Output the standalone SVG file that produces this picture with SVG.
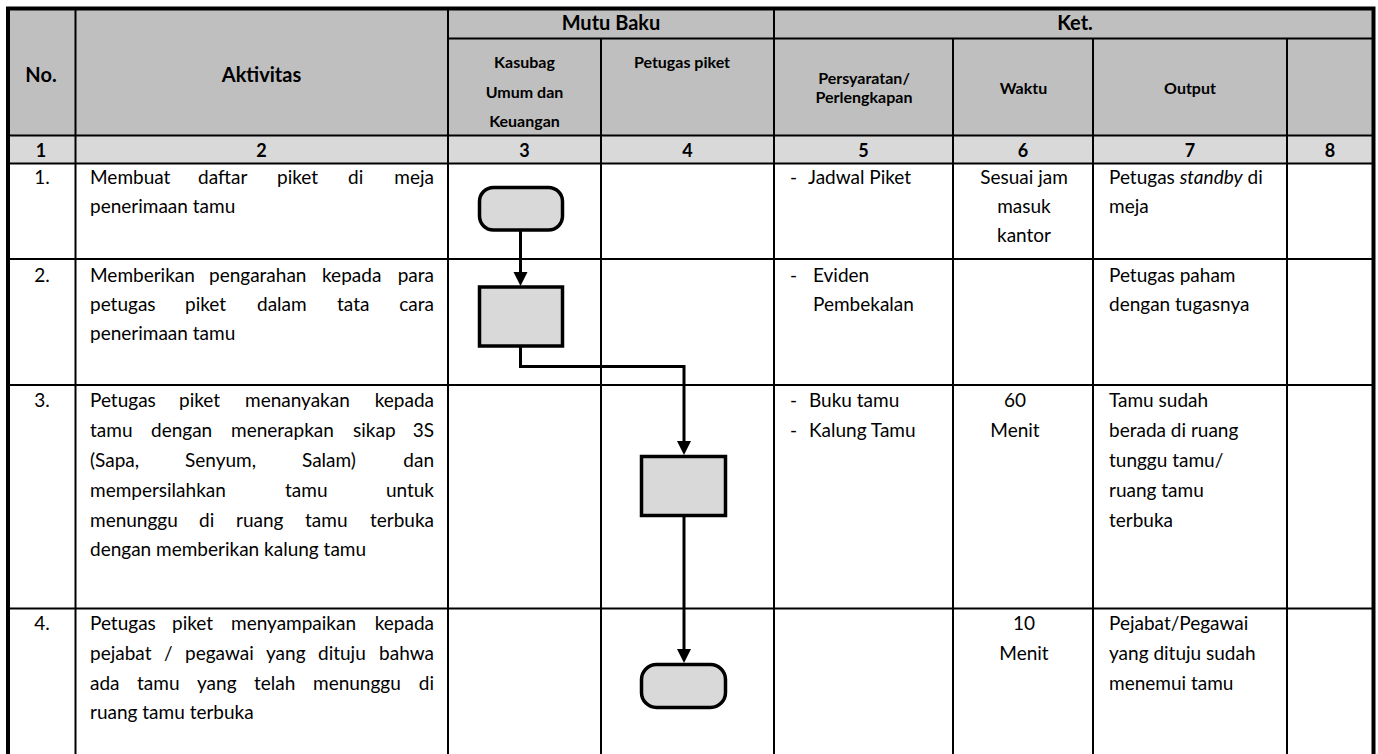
<svg xmlns="http://www.w3.org/2000/svg" width="1378" height="754" viewBox="0 0 1378 754">
<style>
text{font-family:Lato,"Liberation Sans",sans-serif;fill:#000}
.t{font-size:19px}
.hb{font-size:20px;font-weight:bold}
.hs{font-size:16px;font-weight:bold}
.nb{font-size:18px;font-weight:bold}
.m{text-anchor:middle}
.e{text-anchor:end}
.g{stroke:#000;stroke-width:2;fill:none}
.ob{stroke:#000;stroke-width:4;fill:none}
.shape{fill:#D9D9D9;stroke:#000;stroke-width:3.5}
.conn{stroke:#000;stroke-width:3;fill:none}
</style>
<defs>
<marker id="arr" markerUnits="userSpaceOnUse" markerWidth="16" markerHeight="16" refX="0" refY="7" orient="auto">
<path d="M0,0 L14,7 L0,14 z" fill="#000"/>
</marker>
</defs>
<rect width="1378" height="754" fill="#fff"/>

<g id="table">
<rect x="8" y="8" width="1365" height="127.5" fill="#BFBFBF"/>
<rect x="8" y="135.5" width="1365" height="28" fill="#D9D9D9"/>
<g class="g">
<line x1="448" y1="38.5" x2="1373" y2="38.5"/>
<line x1="8" y1="135.5" x2="1373" y2="135.5"/>
<line x1="8" y1="163.5" x2="1373" y2="163.5"/>
<line x1="8" y1="259" x2="1373" y2="259"/>
<line x1="8" y1="385" x2="1373" y2="385"/>
<line x1="8" y1="608.5" x2="1373" y2="608.5"/>
<line x1="75.5" y1="8" x2="75.5" y2="754"/>
<line x1="448" y1="8" x2="448" y2="754"/>
<line x1="601" y1="38.5" x2="601" y2="754"/>
<line x1="774" y1="8" x2="774" y2="754"/>
<line x1="953" y1="38.5" x2="953" y2="754"/>
<line x1="1093" y1="38.5" x2="1093" y2="754"/>
<line x1="1287" y1="38.5" x2="1287" y2="754"/>
</g>
<path class="ob" d="M8,756 V8.5 H1373.5 V756"/>
</g>

<g id="header">
<text class="hb m" x="41" y="82">No.</text>
<text class="hb m" x="261.5" y="82">Aktivitas</text>
<text class="hb m" x="611" y="30">Mutu Baku</text>
<text class="hb m" x="1075" y="30">Ket.</text>
<text class="hs m" x="524.5" y="68">Kasubag</text>
<text class="hs m" x="524.5" y="98">Umum dan</text>
<text class="hs m" x="524.5" y="127">Keuangan</text>
<text class="hs m" x="682" y="68">Petugas piket</text>
<text class="hs m" x="864" y="84">Persyaratan/</text>
<text class="hs m" x="864" y="103">Perlengkapan</text>
<text class="hs m" x="1023.5" y="94">Waktu</text>
<text class="hs m" x="1190" y="94">Output</text>
<text class="nb m" x="41" y="157">1</text>
<text class="nb m" x="261.5" y="157">2</text>
<text class="nb m" x="524.5" y="157">3</text>
<text class="nb m" x="687.5" y="157">4</text>
<text class="nb m" x="863.5" y="157">5</text>
<text class="nb m" x="1023" y="157">6</text>
<text class="nb m" x="1190" y="157">7</text>
<text class="nb m" x="1330" y="157">8</text>
</g>

<g id="row1">
<text class="t m" x="42" y="184">1.</text>
<text class="t" y="184"><tspan x="90">Membuat</tspan><tspan x="198">daftar</tspan><tspan x="277">piket</tspan><tspan x="348">di</tspan></text>
<text class="t e" x="434" y="184">meja</text>
<text class="t" x="90" y="213">penerimaan tamu</text>
<text class="t" y="184"><tspan x="790">-</tspan><tspan x="808">Jadwal Piket</tspan></text>
<text class="t m" x="1024" y="184">Sesuai jam</text>
<text class="t m" x="1024" y="213">masuk</text>
<text class="t m" x="1024" y="242">kantor</text>
<text class="t" x="1109" y="184">Petugas <tspan font-style="italic">standby</tspan> di</text>
<text class="t" x="1109" y="213">meja</text>
</g>

<g id="row2">
<text class="t m" x="42" y="282">2.</text>
<text class="t" y="282"><tspan x="90">Memberikan</tspan><tspan x="209">pengarahan</tspan><tspan x="322">kepada</tspan></text>
<text class="t e" x="434" y="282">para</text>
<text class="t" y="311"><tspan x="90">petugas</tspan><tspan x="185">piket</tspan><tspan x="257">dalam</tspan><tspan x="337">tata</tspan></text>
<text class="t e" x="434" y="311">cara</text>
<text class="t" x="90" y="340">penerimaan tamu</text>
<text class="t" y="282"><tspan x="790">-</tspan><tspan x="813">Eviden</tspan></text>
<text class="t" x="813" y="311">Pembekalan</text>
<text class="t" x="1109" y="282">Petugas paham</text>
<text class="t" x="1109" y="311">dengan tugasnya</text>
</g>

<g id="row3">
<text class="t m" x="42" y="407">3.</text>
<text class="t" y="407"><tspan x="90">Petugas</tspan><tspan x="179">piket</tspan><tspan x="245">menanyakan</tspan></text>
<text class="t e" x="434" y="407">kepada</text>
<text class="t" y="437"><tspan x="90">tamu</tspan><tspan x="151">dengan</tspan><tspan x="231">menerapkan</tspan><tspan x="353">sikap</tspan></text>
<text class="t e" x="434" y="437">3S</text>
<text class="t" y="467"><tspan x="90">(Sapa,</tspan><tspan x="185">Senyum,</tspan><tspan x="302">Salam)</tspan></text>
<text class="t e" x="434" y="467">dan</text>
<text class="t" y="497"><tspan x="90">mempersilahkan</tspan><tspan x="285">tamu</tspan></text>
<text class="t e" x="434" y="497">untuk</text>
<text class="t" y="527"><tspan x="90">menunggu</tspan><tspan x="199">di</tspan><tspan x="236">ruang</tspan><tspan x="305">tamu</tspan></text>
<text class="t e" x="434" y="527">terbuka</text>
<text class="t" x="90" y="556">dengan memberikan kalung tamu</text>
<text class="t" y="407"><tspan x="790">-</tspan><tspan x="809">Buku tamu</tspan></text>
<text class="t" y="437"><tspan x="790">-</tspan><tspan x="809">Kalung Tamu</tspan></text>
<text class="t m" x="1015" y="407">60</text>
<text class="t m" x="1015" y="437">Menit</text>
<text class="t" x="1109" y="407">Tamu sudah</text>
<text class="t" x="1109" y="437">berada di ruang</text>
<text class="t" x="1109" y="467">tunggu tamu/</text>
<text class="t" x="1109" y="497">ruang tamu</text>
<text class="t" x="1109" y="527">terbuka</text>
</g>

<g id="row4">
<text class="t m" x="42" y="630">4.</text>
<text class="t" y="630"><tspan x="90">Petugas</tspan><tspan x="172">piket</tspan><tspan x="231">menyampaikan</tspan></text>
<text class="t e" x="434" y="630">kepada</text>
<text class="t" y="660"><tspan x="90">pejabat</tspan><tspan x="164">/</tspan><tspan x="185">pegawai</tspan><tspan x="266">yang</tspan><tspan x="318">dituju</tspan></text>
<text class="t e" x="434" y="660">bahwa</text>
<text class="t" y="690"><tspan x="90">ada</tspan><tspan x="137">tamu</tspan><tspan x="197">yang</tspan><tspan x="254">telah</tspan><tspan x="313">menunggu</tspan></text>
<text class="t e" x="434" y="690">di</text>
<text class="t" x="90" y="719">ruang tamu terbuka</text>
<text class="t m" x="1024" y="630">10</text>
<text class="t m" x="1024" y="660">Menit</text>
<text class="t" x="1109" y="630">Pejabat/Pegawai</text>
<text class="t" x="1109" y="660">yang dituju sudah</text>
<text class="t" x="1109" y="690">menemui tamu</text>
</g>

<g id="connectors">
<path class="conn" d="M520.5,231 V272" marker-end="url(#arr)"/>
<path class="conn" d="M520.5,347 V366.5 H684 V441" marker-end="url(#arr)"/>
<path class="conn" d="M684,517 V649" marker-end="url(#arr)"/>
</g>

<g id="start">
<rect class="shape" x="479.5" y="187.5" width="83" height="42.5" rx="14" ry="14"/>
</g>
<g id="step2">
<rect class="shape" x="479.5" y="287" width="83" height="59"/>
</g>
<g id="step3">
<rect class="shape" x="641.5" y="456.5" width="84" height="59"/>
</g>
<g id="end">
<rect class="shape" x="641.5" y="664.5" width="84" height="43" rx="15" ry="15"/>
</g>
</svg>
